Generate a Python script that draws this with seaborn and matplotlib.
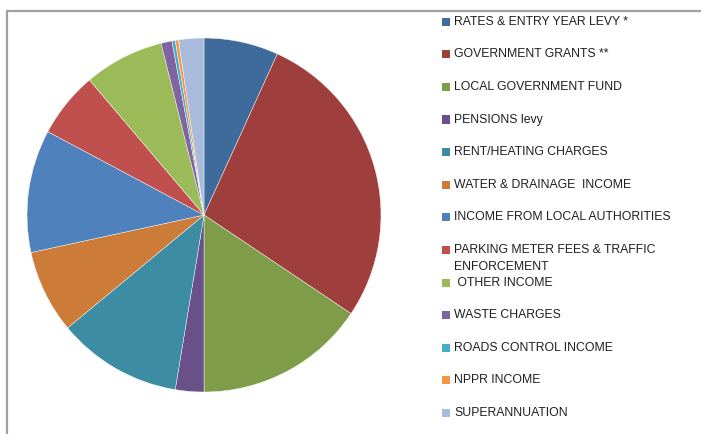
import matplotlib
matplotlib.use("Agg")
import matplotlib.pyplot as plt
from matplotlib.patches import Rectangle
from matplotlib.lines import Line2D
import seaborn as sns

categories = [
    "RATES & ENTRY YEAR LEVY *",
    "GOVERNMENT GRANTS **",
    "LOCAL GOVERNMENT FUND",
    "PENSIONS levy",
    "RENT/HEATING CHARGES",
    "WATER & DRAINAGE  INCOME",
    "INCOME FROM LOCAL AUTHORITIES",
    "PARKING METER FEES & TRAFFIC\nENFORCEMENT",
    " OTHER INCOME",
    "WASTE CHARGES",
    "ROADS CONTROL INCOME",
    "NPPR INCOME",
    "SUPERANNUATION",
]
values = [6.8, 27.6, 15.6, 2.6, 11.4, 7.6, 11.2, 6.0, 7.3, 1.0, 0.3, 0.3, 2.3]
colors = ["#3F6B9C", "#9E3F3D", "#7F9C49", "#6A5088", "#3C8CA4", "#CC7B38",
          "#4F81BD", "#C0504D", "#9BBB59", "#8064A2", "#4BACC6", "#F79646",
          "#A9BBDB"]

sns.set_theme(style="white")
plt.rcParams['font.family'] = ['Liberation Sans', 'DejaVu Sans']

W, H = 701, 434
fig = plt.figure(figsize=(W / 100, H / 100), dpi=100)

cx, cy, r = 204, 215, 177
ax = fig.add_axes([(cx - r) / W, (H - cy - r) / H, 2 * r / W, 2 * r / H])
ax.pie(values, colors=colors, startangle=90, counterclock=False, radius=1,
       wedgeprops=dict(edgecolor="white", linewidth=0.3))
ax.set_xlim(-1, 1)
ax.set_ylim(-1, 1)
ax.axis("off")

# chart frame (cropped)
fig.add_artist(Line2D([6.5 / W, 1], [1 - 10.5 / H, 1 - 10.5 / H], color="#A0A0A0", lw=1.6,
                      transform=fig.transFigure))
fig.add_artist(Line2D([6.5 / W, 6.5 / W], [0, 1 - 10.5 / H], color="#A0A0A0", lw=1.6,
                      transform=fig.transFigure))

# legend
y0, dy = 21.7, 32.6
for i, (lab, col) in enumerate(zip(categories, colors)):
    y = y0 + dy * i
    fig.add_artist(Rectangle((442 / W, 1 - (y + 4) / H), 8 / W, 8 / H,
                             facecolor=col, edgecolor="none", transform=fig.transFigure))
    lines = lab.split("\n")
    for j, ln in enumerate(lines):
        fig.text(454 / W, 1 - (y + 16.6 * j) / H, ln, fontsize=8.85, color="#1F1F1F",
                 ha="left", va="center")

fig.savefig("out.png", dpi=100)
